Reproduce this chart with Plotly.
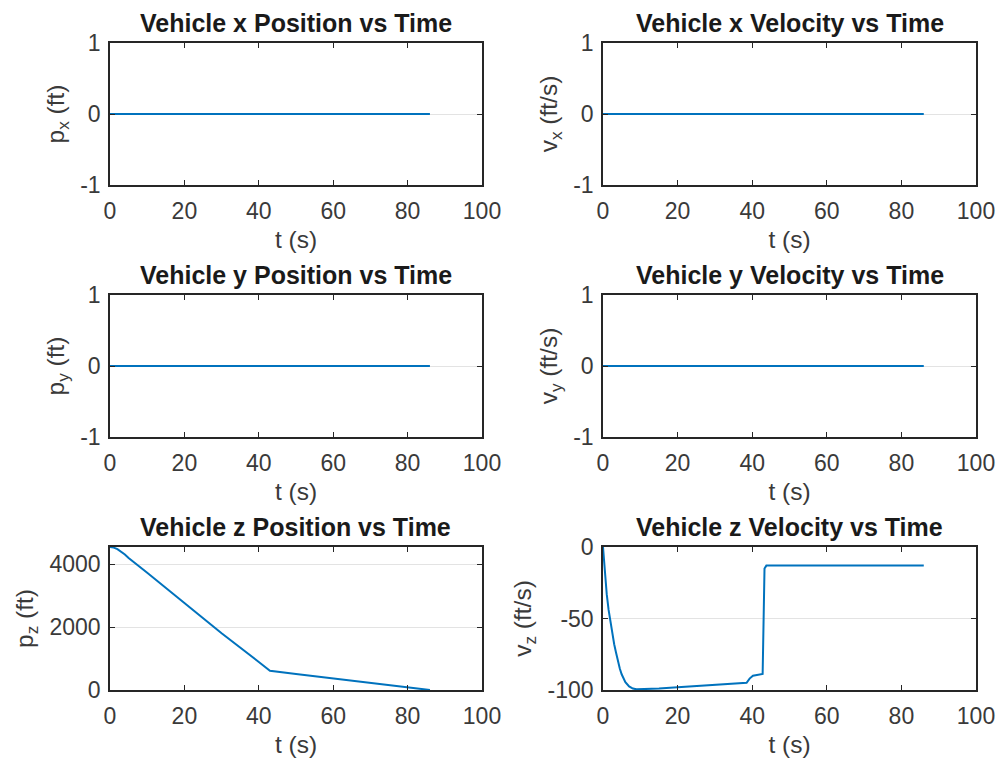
import plotly.graph_objects as go

# ---------------- data ----------------
t_flat = [0, 86]
px_vals = [0, 0]
py_vals = [0, 0]
vx_vals = [0, 0]
vy_vals = [0, 0]

t_pz = [0, 1, 2, 3, 4, 5, 6, 8, 10, 20, 30, 40, 43, 50, 60, 70, 80, 86]
pz_vals = [4540, 4520, 4470, 4390, 4300, 4190, 4090, 3900, 3720, 2760, 1800, 890, 610, 510, 370, 230, 90, 0]

t_vz = [0, 0.5, 1, 1.5, 2, 2.5, 3, 3.5, 4, 4.5, 5, 5.5, 6, 7, 8, 9, 10, 15, 20, 30,
        38.5, 39.3, 40.2, 42.8, 43.0, 43.1, 43.3, 43.8, 50, 86]
vz_vals = [0, -20, -33, -44, -53, -61, -68, -74, -80, -85, -89, -92, -94.5, -97.5, -99, -99.5, -99.5, -99, -98, -96.5,
           -95, -92, -90, -88.8, -50, -20, -15, -13, -13, -13]

titles = ["Vehicle x Position vs Time", "Vehicle x Velocity vs Time",
          "Vehicle y Position vs Time", "Vehicle y Velocity vs Time",
          "Vehicle z Position vs Time", "Vehicle z Velocity vs Time"]
ylabels = ["p<sub>x</sub> (ft)", "v<sub>x</sub> (ft/s)",
           "p<sub>y</sub> (ft)", "v<sub>y</sub> (ft/s)",
           "p<sub>z</sub> (ft)", "v<sub>z</sub> (ft/s)"]
xlabel = "t (s)"
x_ticks = [0, 20, 40, 60, 80, 100]
x_ticktext = ["0", "20", "40", "60", "80", "100"]
y_ticks = [[-1, 0, 1], [-1, 0, 1], [-1, 0, 1], [-1, 0, 1], [0, 2000, 4000], [-100, -50, 0]]
y_ticktext = [["-1", "0", "1"], ["-1", "0", "1"], ["-1", "0", "1"], ["-1", "0", "1"],
              ["0", "2000", "4000"], ["-100", "-50", "0"]]
y_ranges = [[-1, 1], [-1, 1], [-1, 1], [-1, 1], [0, 4540], [-100, 0]]

series = [(t_flat, px_vals), (t_flat, vx_vals), (t_flat, py_vals), (t_flat, vy_vals),
          (t_pz, pz_vals), (t_vz, vz_vals)]

# ---------------- layout ----------------
W, H = 998, 760
col_x = [(110, 482), (603, 976)]
row_y = [(43, 185), (295, 437), (547, 690)]

FONT = "Liberation Sans, Arial, Helvetica, sans-serif"
AX_COLOR = "#262626"
TXT_COLOR = "#3a3a3a"
LINE_COLOR = "#0072BD"

fig = go.Figure()
layout = dict(
    width=W, height=H,
    margin=dict(l=0, r=0, t=0, b=0, autoexpand=False),
    paper_bgcolor="white", plot_bgcolor="white",
    showlegend=False,
    font=dict(family=FONT, size=22, color=AX_COLOR),
)
annotations = []

for i in range(6):
    r, c = divmod(i, 2)
    x0, x1 = col_x[c]
    y0, y1 = row_y[r]
    xd = [x0 / W, x1 / W]
    yd = [1 - y1 / H, 1 - y0 / H]
    n = i + 1
    xa = "xaxis" if n == 1 else f"xaxis{n}"
    ya = "yaxis" if n == 1 else f"yaxis{n}"
    xr = "x" if n == 1 else f"x{n}"
    yr = "y" if n == 1 else f"y{n}"
    tx, ty = series[i]
    fig.add_trace(go.Scatter(x=tx, y=ty, mode="lines", xaxis=xr, yaxis=yr,
                             line=dict(color=LINE_COLOR, width=2)))
    layout[xa] = dict(
        domain=xd, anchor=yr, range=[0, 100], tickvals=x_ticks, ticktext=x_ticktext,
        automargin=False,
        showline=True, mirror="ticks", linecolor=AX_COLOR, linewidth=1.5,
        ticks="inside", ticklen=5, tickwidth=1, tickcolor=AX_COLOR,
        ticklabelstandoff=5,
        showgrid=False, zeroline=False,
        tickfont=dict(family=FONT, size=23, color=TXT_COLOR),
        title=dict(text=xlabel, font=dict(family=FONT, size=24.5, color=TXT_COLOR), standoff=8),
    )
    layout[ya] = dict(
        domain=yd, anchor=xr, range=y_ranges[i], tickvals=y_ticks[i], ticktext=y_ticktext[i],
        automargin=False,
        showline=True, mirror="ticks", linecolor=AX_COLOR, linewidth=1.5,
        ticks="inside", ticklen=5, tickwidth=1, tickcolor=AX_COLOR,
        ticklabelstandoff=3,
        showgrid=True, gridcolor="#e3e3e3", gridwidth=1, zeroline=False,
        tickfont=dict(family=FONT, size=23, color=TXT_COLOR),
        title=dict(text=ylabels[i], font=dict(family=FONT, size=24.5, color=TXT_COLOR), standoff=9),
    )
    annotations.append(dict(
        text=f"<b>{titles[i]}</b>", xref="paper", yref="paper",
        x=(xd[0] + xd[1]) / 2, y=yd[1], xanchor="center", yanchor="bottom",
        yshift=4, showarrow=False,
        font=dict(family=FONT, size=25, color="#1a1a1a"),
    ))

layout["annotations"] = annotations
fig.update_layout(**layout)
fig.write_html(
    "out.html",
    config={"displayModeBar": False},
    post_script="document.body.style.margin='0px';document.body.style.overflow='hidden';",
)
